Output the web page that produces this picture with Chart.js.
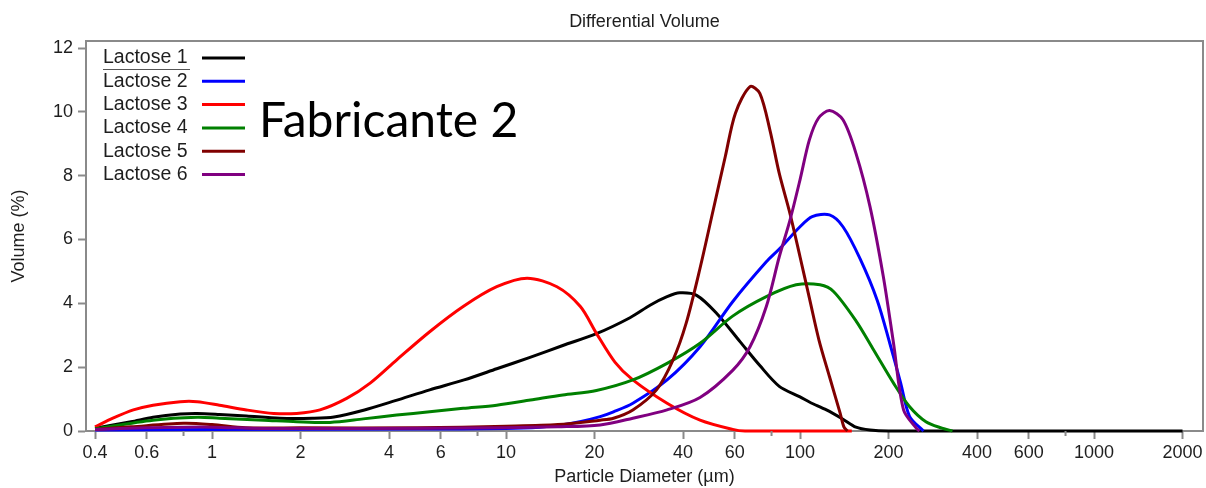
<!DOCTYPE html>
<html>
<head>
<meta charset="utf-8">
<script src="https://cdn.jsdelivr.net/npm/chart.js@4/dist/chart.umd.min.js"></script>
<style>
  html, body { margin: 0; padding: 0; background: #fff; }
  #wrap { position: relative; width: 1206px; height: 488px; }
</style>
</head>
<body>
<div id="wrap"><canvas id="psd" width="1206" height="488"></canvas></div>
<script>
// particle size axis (µm) and its tick labels
var sizeTicks  = [0.4, 0.6, 0.8, 1, 2, 4, 6, 8, 10, 20, 40, 60, 80, 100, 200, 400, 600, 800, 1000, 2000];
var sizeLabels = ["0.4", "0.6", "", "1", "2", "4", "6", "", "10", "20", "40", "60", "", "100", "200", "400", "600", "", "1000", "2000"];
var volumeTicks = [0, 2, 4, 6, 8, 10, 12];

var seriesNames  = ["Lactose 1", "Lactose 2", "Lactose 3", "Lactose 4", "Lactose 5", "Lactose 6"];
var seriesColors = ["#000000", "#0000ff", "#ff0000", "#008000", "#800000", "#800080"];

// Lactose 1
var lactose1Size = [0.4, 0.53, 0.63, 0.78, 0.89, 1.06, 1.31, 1.7, 2.2, 2.6, 3.3, 4.2, 5.5, 7.2, 9.3, 12, 15.6, 20.3, 26.4, 31, 35.3, 39, 44.5, 52, 62.5, 73, 85, 100, 108, 123, 140, 155, 173, 200, 2000];
var lactose1Vol  = [0.09, 0.29, 0.43, 0.53, 0.55, 0.52, 0.47, 0.4, 0.4, 0.44, 0.66, 0.95, 1.29, 1.6, 1.95, 2.3, 2.68, 3.05, 3.55, 3.95, 4.21, 4.33, 4.25, 3.69, 2.8, 2.05, 1.4, 1.07, 0.9, 0.66, 0.37, 0.12, 0.03, 0, 0];
// Lactose 2
var lactose2Size = [0.4, 1, 5, 10, 13, 15.6, 18, 20.9, 23.2, 27, 35.3, 45.7, 59, 76.8, 85, 100, 110, 126, 140, 160, 183, 202, 220, 236, 263];
var lactose2Vol  = [0.03, 0.05, 0.06, 0.08, 0.12, 0.2, 0.3, 0.45, 0.6, 0.87, 1.6, 2.64, 4.05, 5.3, 5.7, 6.4, 6.72, 6.77, 6.4, 5.4, 4.1, 2.75, 1.5, 0.45, 0];
// Lactose 3
var lactose3Size = [0.4, 0.46, 0.54, 0.63, 0.78, 0.89, 1.06, 1.31, 1.62, 1.94, 2.33, 2.87, 3.45, 4.25, 5.5, 7.15, 9.3, 11.8, 14.9, 17.9, 20.3, 23.5, 27, 35.3, 45.7, 59, 65, 150];
var lactose3Vol  = [0.13, 0.4, 0.66, 0.81, 0.92, 0.92, 0.81, 0.66, 0.55, 0.55, 0.66, 1.02, 1.5, 2.23, 3.11, 3.9, 4.52, 4.79, 4.52, 3.9, 3.06, 2.15, 1.6, 0.87, 0.34, 0.05, 0, 0];
// Lactose 4
var lactose4Size = [0.4, 0.63, 0.89, 1.06, 1.5, 1.94, 2.52, 3.27, 4.25, 5.5, 7.15, 9.3, 12.1, 15.6, 20.3, 27, 35.3, 45.7, 59, 76.8, 97, 117, 130, 155, 178, 208, 236, 268, 304, 330];
var lactose4Vol  = [0.07, 0.34, 0.43, 0.4, 0.34, 0.29, 0.27, 0.38, 0.5, 0.6, 0.71, 0.81, 0.97, 1.13, 1.27, 1.6, 2.12, 2.75, 3.6, 4.21, 4.58, 4.58, 4.37, 3.45, 2.54, 1.5, 0.76, 0.29, 0.09, 0];
// Lactose 5
var lactose5Size = [0.4, 0.53, 0.8, 1.0, 1.3, 2, 5, 10, 15, 20.9, 23.2, 27, 32.5, 37, 41, 45.7, 50.6, 55.7, 60.3, 67.6, 73, 79, 85, 92.4, 100, 108, 116, 126, 137, 141, 145];
var lactose5Vol  = [0.05, 0.13, 0.24, 0.2, 0.1, 0.1, 0.1, 0.15, 0.2, 0.34, 0.4, 0.66, 1.29, 2.23, 3.38, 5.1, 6.9, 8.6, 9.96, 10.79, 10.58, 9.43, 8.07, 6.82, 5.46, 4.1, 2.85, 1.7, 0.55, 0.13, 0];
// Lactose 6
var lactose6Size = [0.4, 0.6, 0.8, 1.0, 1.5, 3, 10, 15, 20.9, 27, 35.3, 45.7, 59, 67.6, 76.8, 85, 92.4, 100, 107.6, 115.5, 126, 140, 155, 173, 192, 208, 225, 249, 255];
var lactose6Vol  = [0.05, 0.1, 0.12, 0.12, 0.08, 0.08, 0.1, 0.13, 0.19, 0.4, 0.66, 1.05, 1.9, 2.64, 3.9, 5.46, 6.6, 7.87, 9.12, 9.8, 10.04, 9.75, 8.7, 7.03, 4.84, 2.75, 0.66, 0.08, 0];

var sizes   = [lactose1Size, lactose2Size, lactose3Size, lactose4Size, lactose5Size, lactose6Size];
var volumes = [lactose1Vol, lactose2Vol, lactose3Vol, lactose4Vol, lactose5Vol, lactose6Vol];

var FONT = "'Liberation Sans', Arial, sans-serif";
var TEXT = "#1e1e1e";
var FRAME = "#8a8a8a";

var datasets = [];
for (var i = 0; i < seriesNames.length; i++) {
    var pts = [];
    for (var j = 0; j < sizes[i].length; j++) {
        pts.push({ x: sizes[i][j], y: volumes[i][j] });
    }
    datasets.push({
        label: seriesNames[i],
        data: pts,
        borderColor: seriesColors[i],
        backgroundColor: seriesColors[i],
        borderWidth: 3,
        pointRadius: 0,
        tension: 0.3,
        clip: 6,
        order: seriesNames.length - i   // later series on top
    });
}

// legend block, frame, minor ticks and the big label
var extras = {
    id: "extras",
    afterDraw: function(chart) {
        var ctx = chart.ctx;
        var area = chart.chartArea;
        ctx.save();
        // frame
        ctx.strokeStyle = FRAME;
        ctx.lineWidth = 2;
        ctx.beginPath();
        ctx.moveTo(area.left, area.top);
        ctx.lineTo(area.right, area.top);
        ctx.lineTo(area.right, area.bottom);
        ctx.stroke();

        // short ticks at unlabeled sizes
        var xs = chart.scales.x;
        ctx.beginPath();
        for (var k = 0; k < sizeTicks.length; k++) {
            if (sizeLabels[k] !== "") continue;
            var px = xs.getPixelForValue(sizeTicks[k]);
            ctx.moveTo(px, area.bottom);
            ctx.lineTo(px, area.bottom + 5);
        }
        ctx.stroke();

        // legend
        ctx.font = "19.5px " + FONT;
        ctx.textBaseline = "middle";
        ctx.textAlign = "left";
        for (var n = 0; n < seriesNames.length; n++) {
            var y = 58 + n * 23.3;
            ctx.fillStyle = TEXT;
            ctx.fillText(seriesNames[n], 103, y);
            ctx.strokeStyle = seriesColors[n];
            ctx.lineWidth = 3;
            ctx.beginPath();
            ctx.moveTo(202, y);
            ctx.lineTo(245, y);
            ctx.stroke();
        }
        ctx.strokeStyle = "#555";
        ctx.lineWidth = 1;
        ctx.beginPath();
        ctx.moveTo(103, 69.5);
        ctx.lineTo(190, 69.5);
        ctx.stroke();

        ctx.fillStyle = "#000";
        ctx.font = "48px Lato, 'Open Sans', sans-serif";
        ctx.textBaseline = "alphabetic";
        ctx.fillText("Fabricante 2", 259, 137);
        ctx.restore();
    }
};

var chart = new Chart(document.getElementById("psd"), {
    type: "line",
    data: { datasets: datasets },
    plugins: [extras],
    options: {
        responsive: false,
        animation: false,
        layout: { padding: { top: 0, right: 3, left: 0, bottom: 0 } },
        plugins: {
            legend: { display: false },
            tooltip: { enabled: false },
            title: {
                display: true,
                text: "Differential Volume",
                fullSize: false,
                color: TEXT,
                font: { family: FONT, size: 18, weight: "normal" },
                padding: { top: 11, bottom: 8.4 }
            }
        },
        scales: {
            x: {
                type: "logarithmic",
                min: 0.3727,
                max: 2348,
                afterBuildTicks: function(scale) {
                    scale.ticks = sizeTicks.map(function(v) { return { value: v }; });
                },
                afterFit: function(scale) { scale.height = 57; },
                grid: {
                    drawOnChartArea: false,
                    tickLength: 8,
                    tickWidth: 2,
                    color: FRAME,
                    tickColor: function(c) {
                        return (c.index !== undefined && sizeLabels[c.index] === "") ? "rgba(0,0,0,0)" : FRAME;
                    }
                },
                border: { color: FRAME, width: 2 },
                ticks: {
                    autoSkip: false,
                    maxRotation: 0,
                    padding: 3,
                    color: TEXT,
                    font: { family: FONT, size: 18 },
                    callback: function(v, idx) { return sizeLabels[idx]; }
                },
                title: {
                    display: true,
                    text: "Particle Diameter (µm)",
                    color: TEXT,
                    font: { family: FONT, size: 18 },
                    padding: { top: 0, bottom: 0 }
                }
            },
            y: {
                min: 0,
                max: 12.22,
                afterBuildTicks: function(scale) {
                    scale.ticks = volumeTicks.map(function(v) { return { value: v }; });
                },
                afterFit: function(scale) { scale.width = 86; },
                grid: { drawOnChartArea: false, tickLength: 8, tickWidth: 2, color: FRAME },
                border: { color: FRAME, width: 2 },
                ticks: {
                    padding: 5,
                    color: TEXT,
                    font: { family: FONT, size: 18 }
                },
                title: {
                    display: true,
                    text: "Volume (%)",
                    color: TEXT,
                    font: { family: FONT, size: 18 },
                    padding: { top: 8, bottom: 0 }
                }
            }
        }
    }
});
</script>
</body>
</html>
